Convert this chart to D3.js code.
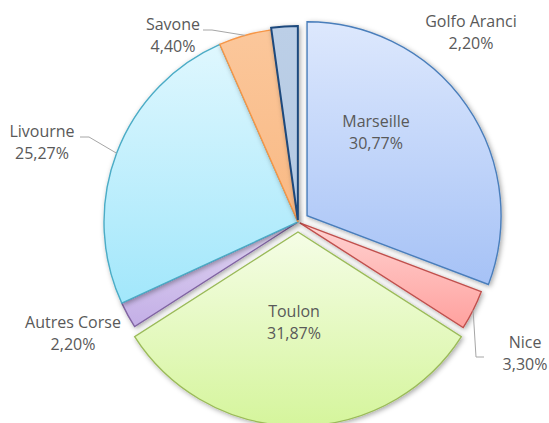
<!DOCTYPE html>
<html>
<head>
<meta charset="utf-8">
<script src="https://cdn.jsdelivr.net/npm/d3@7"></script>
<style>
  html, body { margin: 0; padding: 0; background: #fff; }
  text { font-family: "Open Sans", Lato, sans-serif; font-size: 16px; fill: #595959; }
</style>
</head>
<body>
<svg id="chart" width="549" height="423"></svg>
<script>
// data
const categories = ["Marseille", "Nice", "Toulon", "Autres Corse", "Livourne", "Savone", "Golfo Aranci"];
const values = [30.77, 3.30, 31.87, 2.20, 25.27, 4.40, 2.20];

// styles (one per slice)
const fillTop    = ["#dde8fd", "#ffd2d1", "#f5fde6", "#e0d6f2", "#dff7fe", "#fbc79b", "#bccfe7"];
const fillBottom = ["#a6c2f6", "#ffa19e", "#d5f59c", "#c3aee6", "#a2e7fb", "#f9b984", "#b4c9e2"];
const strokes    = ["#4a7ebb", "#c0504d", "#9bbb59", "#8064a2", "#4bacc6", "#f79646", "#1f497d"];
const explode    = [11, 2, 10, 0, 0, 0, 2];

// label anchors (text centre, first baseline) and leader elbows
const labelPos = [[376, 127], [525, 348], [294, 317], [73, 328], [42, 137], [173, 30], [471, 27]];
const leaders = {
  4: [[80, 137], [89, 137]],
  5: [[203, 30], [212, 30]],
  1: [[484, 357], [476, 357]]
};

const width = 549, height = 423;
const cx = 298, cy = 222, r = 194;

const svg = d3.select("#chart");
const defs = svg.append("defs");

const shadow = defs.append("filter").attr("id", "shadow")
  .attr("x", "-20%").attr("y", "-20%").attr("width", "140%").attr("height", "140%");
shadow.append("feDropShadow")
  .attr("dx", 1.5).attr("dy", 1.5).attr("stdDeviation", 2.5)
  .attr("flood-color", "#000").attr("flood-opacity", 0.35);

categories.forEach((c, i) => {
  const g = defs.append("linearGradient").attr("id", "grad" + i)
    .attr("x1", 0).attr("y1", 0).attr("x2", 0).attr("y2", 1);
  g.append("stop").attr("offset", "0%").attr("stop-color", fillTop[i]);
  g.append("stop").attr("offset", "100%").attr("stop-color", fillBottom[i]);
});

const pie = d3.pie().sort(null).value(d => d)(values);
const arc = d3.arc().innerRadius(0).outerRadius(r);
const edge = d3.arc().innerRadius(r).outerRadius(r);

function shift(d, i) {
  const a = (d.startAngle + d.endAngle) / 2;
  return [explode[i] * Math.sin(a), -explode[i] * Math.cos(a)];
}

const g = svg.append("g").attr("transform", `translate(${cx},${cy})`);

g.selectAll("path.slice")
  .data(pie)
  .enter()
    .append("path")
    .attr("class", "slice")
    .attr("d", arc)
    .attr("transform", (d, i) => "translate(" + shift(d, i) + ")")
    .attr("fill", (d, i) => "url(#grad" + i + ")")
    .attr("stroke", (d, i) => strokes[i])
    .attr("stroke-width", (d, i) => i == 6 ? 2 : 1.4)
    .attr("stroke-linejoin", "miter")
    .attr("filter", "url(#shadow)");

// leader lines
Object.keys(leaders).forEach(k => {
  const i = +k, d = pie[i];
  const s = shift(d, i);
  const p = edge.centroid(d);
  const pts = leaders[k].map(q => [q[0] - cx, q[1] - cy]);
  pts.push([p[0] + s[0], p[1] + s[1]]);
  g.append("path")
    .attr("d", d3.line()(pts))
    .attr("fill", "none")
    .attr("stroke", "#a6a6a6")
    .attr("stroke-width", 1);
});

// labels
const fmt = v => v.toFixed(2).replace(".", ",") + "%";
const lab = svg.selectAll("text.lab")
  .data(categories)
  .enter()
    .append("text")
    .attr("class", "lab")
    .attr("text-anchor", "middle")
    .attr("x", (d, i) => labelPos[i][0])
    .attr("y", (d, i) => labelPos[i][1]);
lab.append("tspan").text(d => d);
lab.append("tspan")
  .attr("x", (d, i) => labelPos[i][0])
  .attr("dy", 22)
  .text((d, i) => fmt(values[i]));
</script>
</body>
</html>
